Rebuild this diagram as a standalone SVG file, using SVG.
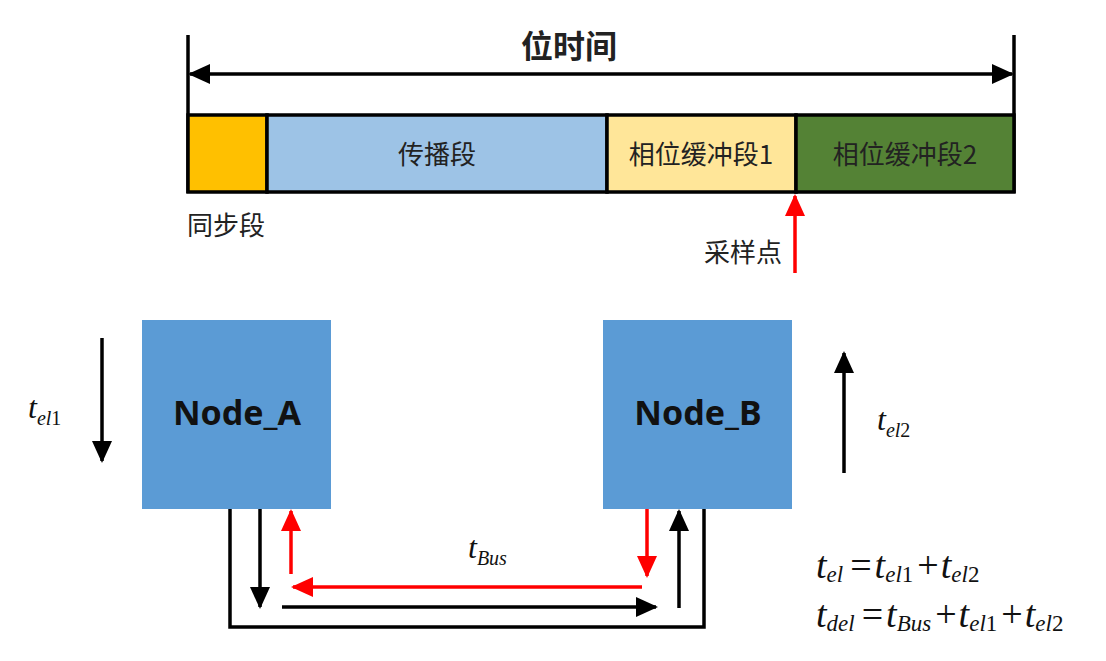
<svg xmlns="http://www.w3.org/2000/svg" width="1106" height="661" viewBox="0 0 1106 661">
<defs>
<style>
.cn{font-family:"Noto Sans CJK SC","Noto Sans",sans-serif;fill:#222}
.node{font-family:"Noto Sans","Open Sans",sans-serif;font-weight:bold;font-size:34px;fill:#111}
.m{font-family:"Liberation Serif",serif;font-style:italic;fill:#111}
.up{font-style:normal}
.blk{stroke:#000;stroke-width:3.5;fill:none}
.red{stroke:#f00;stroke-width:3.5;fill:none}
</style>
<marker id="ab" markerUnits="userSpaceOnUse" markerWidth="22" markerHeight="22" viewBox="0 0 22 22" refX="20" refY="11" orient="auto-start-reverse"><path d="M0,1 L22,11 L0,21 Z" fill="#000"/></marker>
<marker id="ar" markerUnits="userSpaceOnUse" markerWidth="22" markerHeight="22" viewBox="0 0 22 22" refX="20" refY="11" orient="auto"><path d="M0,1 L22,11 L0,21 Z" fill="#f00"/></marker>
</defs>
<rect width="1106" height="661" fill="#fff"/>

<g id="timeline">
<line class="blk" x1="188" y1="35" x2="188" y2="193"/>
<line class="blk" x1="1014" y1="35" x2="1014" y2="193"/>
<line class="blk" x1="190" y1="74" x2="1012" y2="74" marker-start="url(#ab)" marker-end="url(#ab)"/>
<text class="cn" x="569" y="58" text-anchor="middle" font-size="32" font-weight="bold">位时间</text>
</g>

<g id="seg_sync">
<rect x="188" y="115" width="79" height="77" fill="#FFC000" stroke="#000" stroke-width="3.5"/>
<text class="cn" x="187" y="235" font-size="26">同步段</text>
</g>
<g id="seg_prop">
<rect x="267" y="115" width="340" height="77" fill="#9DC3E6" stroke="#000" stroke-width="3.5"/>
<text class="cn" x="437" y="164" text-anchor="middle" font-size="26">传播段</text>
</g>
<g id="seg_pb1">
<rect x="607" y="115" width="189" height="77" fill="#FFE699" stroke="#000" stroke-width="3.5"/>
<text class="cn" x="701" y="164" text-anchor="middle" font-size="26">相位缓冲段1</text>
</g>
<g id="seg_pb2">
<rect x="796" y="115" width="218" height="77" fill="#548235" stroke="#000" stroke-width="3.5"/>
<text class="cn" x="905" y="164" text-anchor="middle" font-size="26">相位缓冲段2</text>
</g>

<g id="sample_point">
<line class="red" x1="795" y1="273" x2="795" y2="196" marker-end="url(#ar)"/>
<text class="cn" x="782" y="262" text-anchor="end" font-size="26">采样点</text>
</g>

<g id="Node_A">
<rect x="142" y="320" width="189" height="189" fill="#5B9BD5"/>
<text class="node" x="237" y="425" text-anchor="middle">Node_A</text>
</g>
<g id="Node_B">
<rect x="603" y="320" width="189" height="189" fill="#5B9BD5"/>
<text class="node" x="698" y="425" text-anchor="middle">Node_B</text>
</g>

<g id="connectors">
<line class="blk" x1="102" y1="338" x2="102" y2="461" marker-end="url(#ab)"/>
<line class="blk" x1="844" y1="473" x2="844" y2="353" marker-end="url(#ab)"/>
<polyline class="blk" points="230,509 230,627 704,627 704,509"/>
<line class="blk" x1="260" y1="509" x2="260" y2="607" marker-end="url(#ab)"/>
<line class="red" x1="291" y1="574" x2="291" y2="511" marker-end="url(#ar)"/>
<line class="red" x1="642" y1="587" x2="293" y2="587" marker-end="url(#ar)"/>
<line class="blk" x1="282" y1="607" x2="656" y2="607" marker-end="url(#ab)"/>
<line class="red" x1="647" y1="509" x2="647" y2="576" marker-end="url(#ar)"/>
<line class="blk" x1="679" y1="608" x2="679" y2="511" marker-end="url(#ab)"/>
</g>

<g id="labels">
<text class="m" x="28" y="418" font-size="32">t<tspan font-size="20" dy="7">el</tspan><tspan class="up" font-size="20">1</tspan></text>
<text class="m" x="877" y="430" font-size="32">t<tspan font-size="20" dy="7">el</tspan><tspan class="up" font-size="20">2</tspan></text>
<text class="m" x="468" y="558" font-size="32">t<tspan font-size="20" dy="7">Bus</tspan></text>
<text class="m" x="816" y="578" font-size="38">t<tspan font-size="23" dy="4">el</tspan><tspan class="up" dy="-4" dx="7">=</tspan><tspan dx="3">t</tspan><tspan font-size="23" dy="4">el</tspan><tspan class="up" font-size="23">1</tspan><tspan class="up" dy="-4" dx="4">+</tspan><tspan dx="2">t</tspan><tspan font-size="23" dy="4">el</tspan><tspan class="up" font-size="23">2</tspan></text>
<text class="m" x="816" y="627" font-size="38">t<tspan font-size="23" dy="4">del</tspan><tspan class="up" dy="-4" dx="7">=</tspan><tspan dx="3">t</tspan><tspan font-size="23" dy="4">Bus</tspan><tspan class="up" dy="-4" dx="4">+</tspan><tspan dx="2">t</tspan><tspan font-size="23" dy="4">el</tspan><tspan class="up" font-size="23">1</tspan><tspan class="up" dy="-4" dx="4">+</tspan><tspan dx="2">t</tspan><tspan font-size="23" dy="4">el</tspan><tspan class="up" font-size="23">2</tspan></text>
</g>
</svg>
